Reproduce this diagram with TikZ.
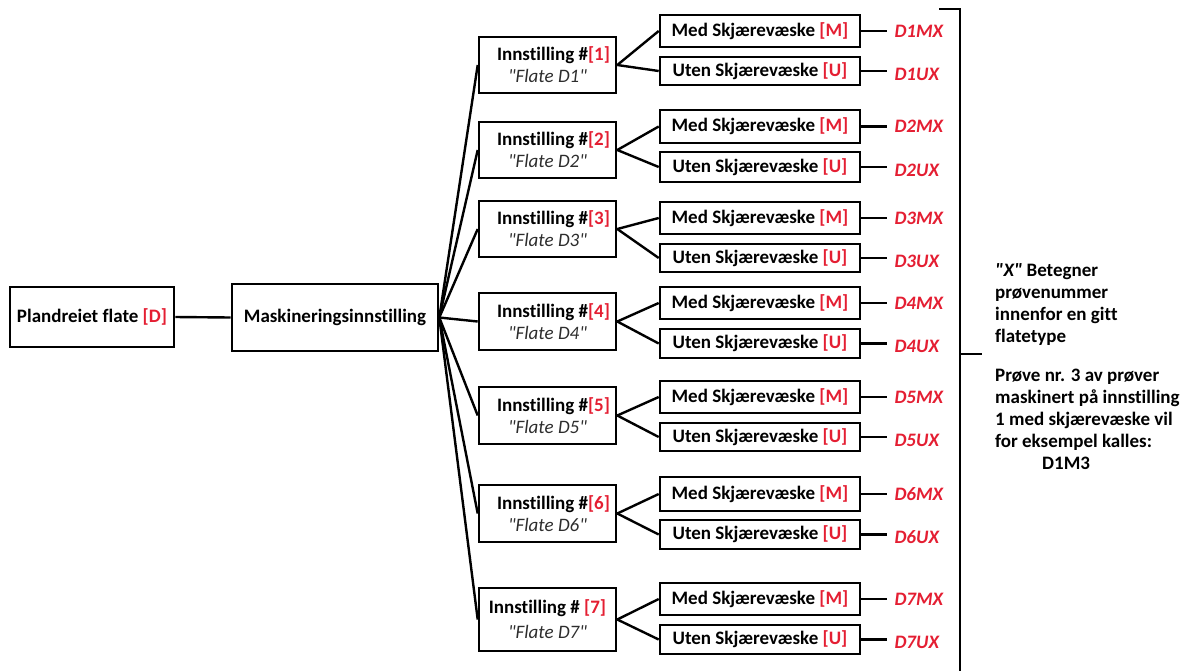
\documentclass[tikz,border=0pt]{standalone}
\usepackage{fontspec}
\setmainfont{Carlito}[Ligatures={TeXOff,NoCommon}]
\definecolor{rd}{RGB}{228,30,50}
\definecolor{gy}{RGB}{45,45,45}
\begin{document}
\begin{tikzpicture}[x=1pt,y=-1pt,
  box/.style={draw, line width=2.6pt, inner sep=0pt, align=center,
    font=\fontsize{19}{22}\selectfont\bfseries},
  ln/.style={line width=2.4pt},
  lab/.style={anchor=west, text=rd, inner sep=0pt,
    font=\fontsize{19}{22}\selectfont\bfseries\itshape},
  note/.style={anchor=north west, align=left, inner sep=0pt,
    font=\fontsize{19}{22}\selectfont\bfseries}]
\useasboundingbox (0,0) rectangle (1190,670);

\node[box, minimum width=164pt, minimum height=60pt] (p) at (92,317) {Plandreiet flate \textcolor{rd}{[D]}};
\node[box, minimum width=206pt, minimum height=67pt] (mk) at (335,317.5) {Maskineringsinnstilling};
\draw[ln] (p.east) -- (mk.west);

\foreach \i/\c/\h/\mc/\mh/\uc/\uh in {1/65/56/31/32/71/28, 2/150/56/126.5/33/167/30, 3/229/56/218/32/258/28, 4/321.5/57/303/32/343.5/29, 5/415.5/57/397/32/437/28, 6/513.5/57/494/34/534.5/29, 7/619.5/63/599/32/639.5/29}{
  \ifnum\i=7
    \node[box, minimum width=137pt, minimum height=\h pt] (i\i) at (547.5,\c) {Innstilling \# \textcolor{rd}{[\i]}\\[3pt]{\mdseries\itshape\color{gy}"Flate D\i"}};
  \else
    \node[box, minimum width=137pt, minimum height=\h pt] (i\i) at (547.5,\c) {\hspace*{12pt}Innstilling \#\textcolor{rd}{[\i]}\\{\mdseries\itshape\color{gy}"Flate D\i"}};
  \fi
  \node[box, minimum width=200pt, minimum height=\mh pt] (m\i) at (760,\mc) {Med Skjærevæske \textcolor{rd}{[M]}};
  \node[box, minimum width=200pt, minimum height=\uh pt] (u\i) at (760,\uc) {Uten Skjærevæske \textcolor{rd}{[U]}};
  \draw[ln] (mk.east) -- (i\i.west);
  \draw[ln] (i\i.east) -- (m\i.west);
  \draw[ln] (i\i.east) -- (u\i.west);
  \coordinate (mx\i) at ([xshift=26pt]m\i.east);
  \coordinate (ux\i) at ([xshift=26pt]u\i.east);
  \draw[ln] (m\i.east) -- (mx\i);
  \draw[ln] (u\i.east) -- (ux\i);
  \node[lab] (lm\i) at ([xshift=7pt]mx\i) {D\i MX};
  \node[lab] (lu\i) at ([xshift=7pt,yshift=-3pt]ux\i) {D\i UX};
}

\coordinate (bt) at (939,9);
\coordinate (bc) at (960,9);
\coordinate (bb) at (960,672);
\coordinate (tk0) at (960,354);
\coordinate (tk1) at (982,354);
\draw[ln] (bt) -- (bc) -- (bb);
\draw[ln] (tk0) -- (tk1);

\node[note] (n1) at (995,263) {\textit{"X"} Betegner\\prøvenummer\\innenfor en gitt\\flatetype\\[17pt]
Prøve nr. 3 av prøver\\maskinert på innstilling\\1 med skjærevæske vil\\for eksempel kalles:\\\hspace*{47pt}D1M3};
\end{tikzpicture}
\end{document}
